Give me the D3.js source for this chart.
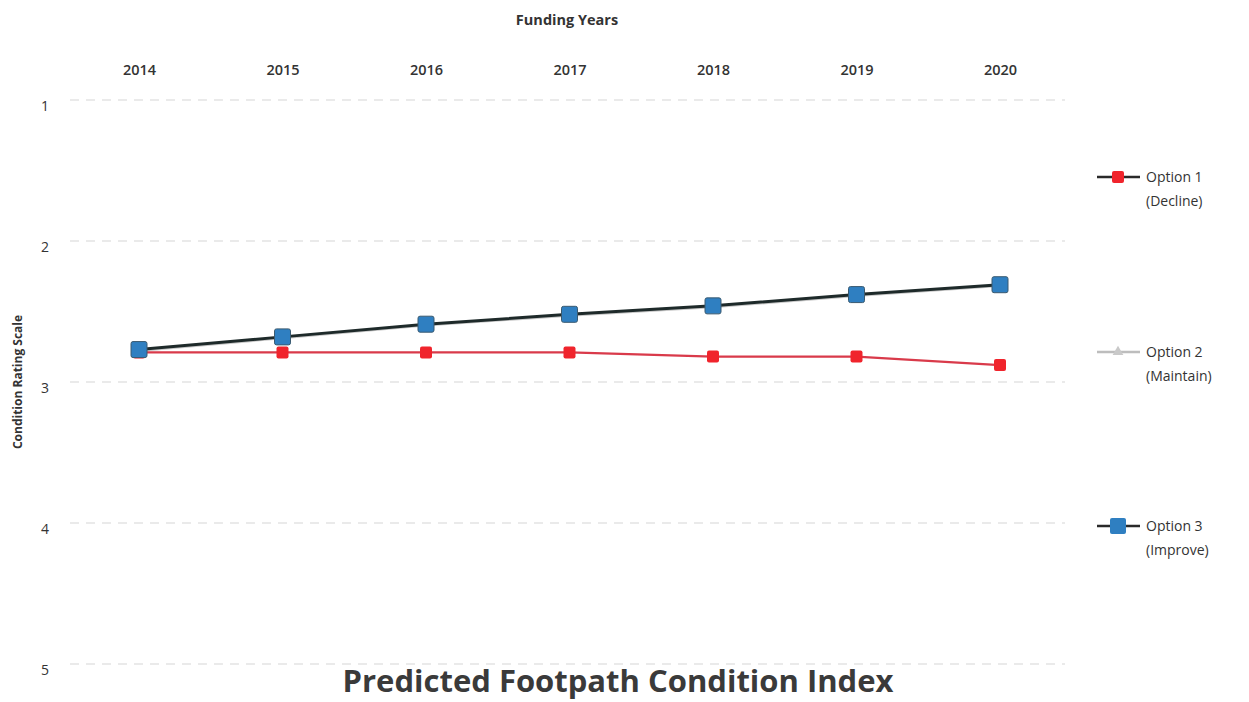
<!DOCTYPE html>
<html><head><meta charset="utf-8">
<script src="https://cdn.jsdelivr.net/npm/d3@7"></script>
<style>body{margin:0;background:#fff}svg{display:block}text{font-family:"Open Sans",sans-serif}</style>
</head><body>
<script>
const years = ["2014","2015","2016","2017","2018","2019","2020"];
const option1 = [2.79, 2.79, 2.79, 2.79, 2.82, 2.82, 2.88];
const option2 = [2.78, 2.69, 2.60, 2.53, 2.47, 2.39, 2.32];
const option3 = [2.77, 2.68, 2.59, 2.52, 2.46, 2.38, 2.31];
const yTicks = [1, 2, 3, 4, 5];
const seriesNames = [["Option 1","(Decline)"],["Option 2","(Maintain)"],["Option 3","(Improve)"]];

const W = 1249, H = 702;
const svg = d3.select("body").append("svg").attr("width", W).attr("height", H);
const x = d3.scalePoint().domain(years).range([139, 1000]);
const y = d3.scaleLinear().domain([1, 5]).range([100, 664]);

// gridlines
svg.append("g").selectAll("line").data(yTicks).join("line")
  .attr("x1", 70).attr("x2", 1065)
  .attr("y1", d => y(d)).attr("y2", d => y(d))
  .attr("stroke", "#d6d6d6").attr("stroke-width", 1.2).attr("stroke-dasharray", "9,7");

// y axis labels
const yAxis = d3.axisLeft(y).tickValues(yTicks).tickSize(0).tickFormat(d3.format("d"));
const ya = svg.append("g").attr("transform", "translate(52,0)").call(yAxis);
ya.select(".domain").remove();
ya.selectAll("text").attr("font-size", 14).attr("fill", "#333").attr("font-family", "Open Sans").attr("dy", "0.75em");

// x axis labels at top
const xAxis = d3.axisTop(x).tickSize(0);
const xa = svg.append("g").attr("transform", "translate(0,78)").call(xAxis);
xa.select(".domain").remove();
xa.selectAll("text").attr("font-size", 14.5).attr("font-weight", 600).attr("fill", "#333").attr("font-family", "Open Sans");

svg.append("text").attr("x", 567).attr("y", 25).attr("text-anchor", "middle")
  .attr("font-size", 14.5).attr("font-weight", 700).attr("fill", "#333").text("Funding Years");
svg.append("text").attr("transform", "translate(22,382) rotate(-90)").attr("text-anchor", "middle")
  .attr("font-size", 12).attr("font-weight", 700).attr("fill", "#333").text("Condition Rating Scale");
svg.append("text").attr("x", 618).attr("y", 692).attr("text-anchor", "middle")
  .attr("font-size", 31).attr("font-weight", 700).attr("fill", "#3a3a3a").text("Predicted Footpath Condition Index");

const line = d3.line().x((d, i) => x(years[i])).y(d => y(d));

// Option 2 (grey, triangles)
svg.append("path").datum(option2).attr("d", line).attr("fill", "none").attr("stroke", "#c9c9c9").attr("stroke-width", 2);
svg.append("g").selectAll("path").data(option2).join("path")
  .attr("d", d3.symbol(d3.symbolTriangle, 60)).attr("transform", (d, i) => `translate(${x(years[i])},${y(d)})`)
  .attr("fill", "#c9c9c9");

// Option 1 (red)
svg.append("path").datum(option1).attr("d", line).attr("fill", "none").attr("stroke", "#d93a4a").attr("stroke-width", 2.2);
svg.append("g").selectAll("rect").data(option1).join("rect")
  .attr("x", (d, i) => x(years[i]) - 6).attr("y", d => y(d) - 6).attr("width", 12).attr("height", 12).attr("rx", 2)
  .attr("fill", "#f0242c");

// Option 3 (blue)
svg.append("path").datum(option3).attr("d", line).attr("fill", "none").attr("stroke", "#1e2a2a").attr("stroke-width", 3);
svg.append("g").selectAll("rect").data(option3).join("rect")
  .attr("x", (d, i) => x(years[i]) - 8).attr("y", d => y(d) - 8).attr("width", 16).attr("height", 16).attr("rx", 2)
  .attr("fill", "#2f7fc1").attr("stroke", "#3a5a70").attr("stroke-width", 1);

// legend
const legY = [177, 352, 526];
const lg = svg.append("g");
seriesNames.forEach((nm, i) => {
  const g = lg.append("g").attr("transform", `translate(0,${legY[i]})`);
  const col = i === 1 ? "#bdbdbd" : "#2a2a2a";
  g.append("line").attr("x1", 1097).attr("x2", 1140).attr("y1", 0).attr("y2", 0).attr("stroke", col).attr("stroke-width", 2.5);
  if (i === 0) g.append("rect").attr("x", 1112).attr("y", -6).attr("width", 12).attr("height", 12).attr("rx", 2).attr("fill", "#f0242c");
  if (i === 1) g.append("path").attr("d", d3.symbol(d3.symbolTriangle, 50)).attr("transform", "translate(1118,0)").attr("fill", "#c9c9c9");
  if (i === 2) g.append("rect").attr("x", 1110).attr("y", -8).attr("width", 16).attr("height", 16).attr("rx", 2).attr("fill", "#2f7fc1");
  g.append("text").attr("x", 1146).attr("y", 5).attr("font-size", 14).attr("fill", "#333").text(nm[0]);
  g.append("text").attr("x", 1146).attr("y", 29).attr("font-size", 14).attr("fill", "#333").text(nm[1]);
});
</script>
</body></html>
